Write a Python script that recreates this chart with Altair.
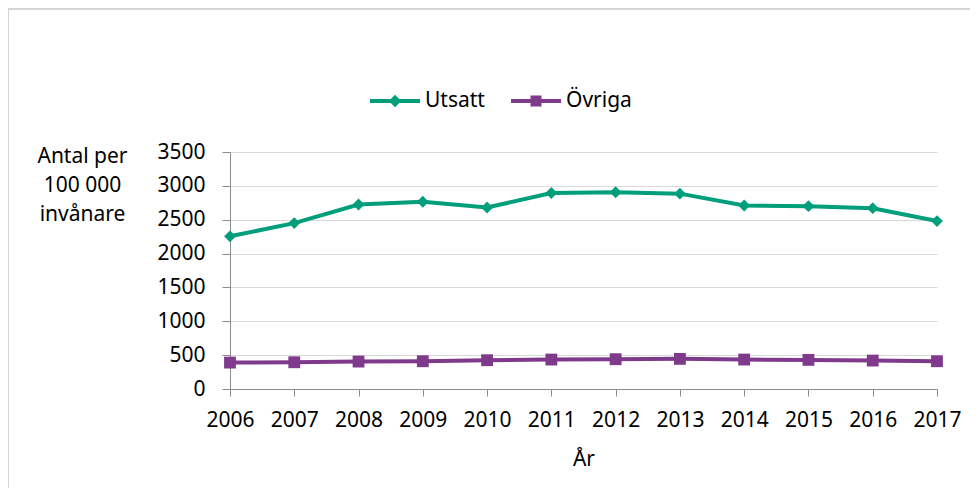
import altair as alt
import pandas as pd

years = [2006, 2007, 2008, 2009, 2010, 2011, 2012, 2013, 2014, 2015, 2016, 2017]
utsatt = [2255, 2450, 2725, 2765, 2680, 2895, 2905, 2885, 2710, 2700, 2670, 2480]
ovriga = [390, 395, 405, 410, 425, 435, 440, 445, 435, 430, 420, 410]
series = ["Utsatt", "Övriga"]
colors = ["#009E7A", "#7F3A8C"]
y_ticks = [0, 500, 1000, 1500, 2000, 2500, 3000, 3500]
y_title = ["Antal per", "100 000", "invånare"]
x_title = "År"

FONT = "Noto Sans"
FS = 21

df = pd.DataFrame(
    {
        "year": years * 2,
        "value": utsatt + ovriga,
        "series": [series[0]] * len(years) + [series[1]] * len(years),
    }
)

color_scale = alt.Scale(domain=series, range=colors)

x_enc = alt.X(
    "year:Q",
    scale=alt.Scale(domain=[years[0], years[-1]], nice=False, zero=False),
    axis=alt.Axis(
        values=years,
        format="d",
        grid=False,
        title=x_title,
        tickSize=7,
        labelPadding=13,
        titlePadding=18,
        labelFlush=False,
    ),
)
y_enc = alt.Y(
    "value:Q",
    scale=alt.Scale(domain=[0, 3500], nice=False),
    axis=alt.Axis(
        values=y_ticks,
        format="d",
        title=y_title,
        titleAngle=0,
        titleAlign="center",
        titleBaseline="top",
        titleX=-148,
        titleY=-7,
        titleLineHeight=29,
        tickSize=8,
        labelPadding=17,
    ),
)

base = alt.Chart(df)

lines = base.mark_line(strokeWidth=4).encode(
    x=x_enc,
    y=y_enc,
    color=alt.Color("series:N", scale=color_scale, legend=None),
    detail="series:N",
)

points = base.mark_point(filled=True, opacity=1, size=140).encode(
    x=x_enc,
    y=y_enc,
    color=alt.Color("series:N", scale=color_scale, legend=None),
    shape=alt.Shape(
        "series:N",
        scale=alt.Scale(domain=series, range=["diamond", "square"]),
        legend=None,
    ),
)

legend_paths = [
    "M-1,-0.08H1V0.08H-1ZM0,-0.25L0.25,0L0,0.25L-0.25,0Z",
    "M-1,-0.08H1V0.08H-1ZM-0.22,-0.22H0.22V0.22H-0.22Z",
]

legend_cfg = alt.Legend(
    title=None,
    orient="none",
    direction="horizontal",
    legendX=140,
    legendY=-76,
    symbolSize=2500,
    symbolStrokeWidth=0,
    symbolOpacity=1,
    labelOffset=5,
    columnPadding=26,
    padding=0,
    labelFontSize=FS,
    labelFont=FONT,
    labelColor="#000000",
)

legend_layer = base.mark_point(filled=True, opacity=0, size=10).encode(
    x=x_enc,
    y=y_enc,
    color=alt.Color("series:N", scale=color_scale, legend=legend_cfg),
    shape=alt.Shape(
        "series:N",
        scale=alt.Scale(domain=series, range=legend_paths),
        legend=legend_cfg,
    ),
)

frame = alt.Chart(pd.DataFrame({"k": [0]})).mark_rect(
    fill="transparent", stroke="#c8c8c8", strokeWidth=1.5
).encode(
    x=alt.value(-222),
    x2=alt.value(1200),
    y=alt.value(-143),
    y2=alt.value(1000),
)

chart = (
    alt.layer(frame, lines, points, legend_layer)
    .resolve_scale(shape="independent", color="independent")
    .properties(
        width=707,
        height=237,
        autosize=alt.AutoSizeParams(type="none"),
        padding={"left": 222, "top": 144, "right": 33, "bottom": 99},
    )
    .configure_view(stroke=None)
    .configure_axis(
        labelFont=FONT,
        labelFontSize=FS,
        labelColor="#000000",
        titleFont=FONT,
        titleFontSize=FS,
        titleFontWeight="normal",
        titleColor="#000000",
        domainColor="#8c8c8c",
        tickColor="#8c8c8c",
        gridColor="#d9d9d9",
        domainWidth=1,
    )
)

chart.save("out.html", embed_options={"renderer": "svg", "actions": False})
